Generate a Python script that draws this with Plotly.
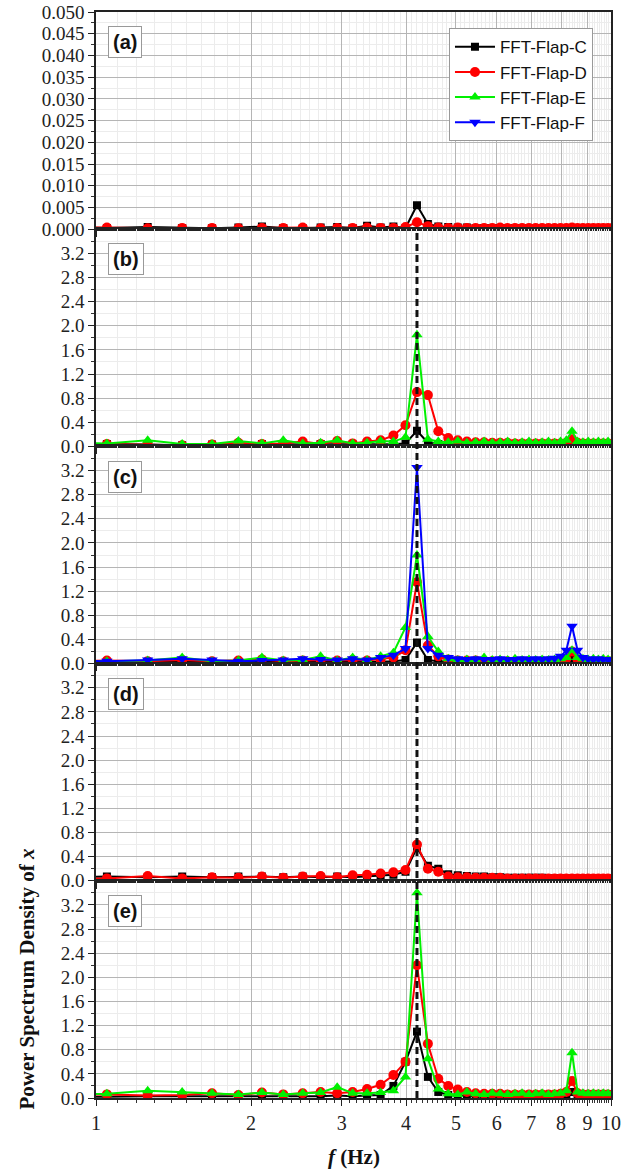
import math
import plotly.graph_objects as go
from plotly.subplots import make_subplots

# ---------------- data ----------------
freq = [0.84, 1.05, 1.26, 1.47, 1.68, 1.89, 2.10, 2.31, 2.52, 2.73, 2.94, 3.15, 3.36, 3.57,
        3.78, 3.99, 4.20, 4.41, 4.62, 4.83, 5.04, 5.25, 5.46, 5.67, 5.88, 6.09, 6.30, 6.51,
        6.72, 6.93, 7.14, 7.35, 7.56, 7.77, 7.98, 8.19, 8.40, 8.61, 8.82, 9.03, 9.24, 9.45,
        9.66, 9.87, 10.08]

# panel (a)
C_a = [0.0004, 0.0003, 0.0005, 0.0003, 0.0002, 0.0004, 0.0006, 0.0003, 0.0002, 0.0004, 0.0005,
       0.0003, 0.0008, 0.0004, 0.0006, 0.0003, 0.0055, 0.0012, 0.0006, 0.0005, 0.0004, 0.0004,
       0.0003, 0.0003, 0.0003, 0.0003, 0.0002, 0.0003, 0.0002, 0.0002, 0.0003, 0.0002, 0.0002,
       0.0002, 0.0002, 0.0002, 0.0003, 0.0002, 0.0002, 0.0002, 0.0002, 0.0002, 0.0002, 0.0002,
       0.0002]
D_a = [0.0003, 0.0004, 0.0002, 0.0003, 0.0003, 0.0002, 0.0003, 0.0003, 0.0004, 0.0002, 0.0003,
       0.0003, 0.0004, 0.0003, 0.0003, 0.0005, 0.0016, 0.0007, 0.0004, 0.0003, 0.0004, 0.0003,
       0.0003, 0.0003, 0.0003, 0.0004, 0.0003, 0.0003, 0.0003, 0.0003, 0.0003, 0.0003, 0.0003,
       0.0003, 0.0003, 0.0003, 0.0004, 0.0003, 0.0003, 0.0003, 0.0003, 0.0003, 0.0003, 0.0003,
       0.0003]

# panel (b)
C_b = [0.03, 0.04, 0.03, 0.02, 0.03, 0.03, 0.04, 0.03, 0.03, 0.04, 0.03, 0.03, 0.04, 0.03, 0.04,
       0.05, 0.26, 0.06, 0.04, 0.03, 0.03, 0.03, 0.03, 0.02, 0.02, 0.03, 0.02, 0.02, 0.02, 0.02,
       0.02, 0.02, 0.02, 0.02, 0.03, 0.03, 0.05, 0.03, 0.02, 0.02, 0.02, 0.02, 0.02, 0.02, 0.02]
D_b = [0.05, 0.04, 0.03, 0.02, 0.03, 0.06, 0.04, 0.05, 0.08, 0.04, 0.09, 0.05, 0.08, 0.10, 0.18,
       0.35, 0.90, 0.85, 0.25, 0.14, 0.10, 0.08, 0.07, 0.07, 0.06, 0.06, 0.06, 0.05, 0.05, 0.05,
       0.05, 0.05, 0.05, 0.05, 0.05, 0.06, 0.12, 0.06, 0.05, 0.05, 0.05, 0.05, 0.05, 0.05, 0.05]
E_b = [0.06, 0.05, 0.10, 0.04, 0.04, 0.09, 0.05, 0.10, 0.05, 0.06, 0.10, 0.05, 0.06, 0.09, 0.08,
       0.15, 1.85, 0.12, 0.08, 0.07, 0.09, 0.06, 0.07, 0.08, 0.06, 0.07, 0.08, 0.06, 0.07, 0.08,
       0.06, 0.07, 0.08, 0.06, 0.08, 0.10, 0.25, 0.08, 0.07, 0.08, 0.07, 0.08, 0.07, 0.08, 0.07]

# panel (c)
C_c = [0.03, 0.02, 0.03, 0.03, 0.02, 0.03, 0.03, 0.02, 0.03, 0.03, 0.02, 0.03, 0.03, 0.03, 0.04,
       0.06, 0.35, 0.06, 0.04, 0.03, 0.03, 0.03, 0.02, 0.02, 0.02, 0.02, 0.02, 0.02, 0.02, 0.02,
       0.02, 0.02, 0.02, 0.02, 0.03, 0.04, 0.06, 0.03, 0.02, 0.02, 0.02, 0.02, 0.02, 0.02, 0.02]
D_c = [0.04, 0.05, 0.04, 0.06, 0.04, 0.05, 0.07, 0.04, 0.05, 0.06, 0.05, 0.06, 0.05, 0.07, 0.10,
       0.22, 1.35, 0.30, 0.12, 0.07, 0.05, 0.05, 0.05, 0.04, 0.04, 0.04, 0.04, 0.04, 0.04, 0.04,
       0.04, 0.04, 0.04, 0.04, 0.05, 0.08, 0.20, 0.07, 0.04, 0.04, 0.04, 0.04, 0.04, 0.04, 0.04]
E_c = [0.05, 0.04, 0.05, 0.10, 0.04, 0.05, 0.10, 0.05, 0.06, 0.12, 0.05, 0.10, 0.06, 0.12, 0.18,
       0.60, 1.80, 0.45, 0.20, 0.08, 0.06, 0.07, 0.06, 0.10, 0.06, 0.07, 0.06, 0.08, 0.06, 0.07,
       0.06, 0.07, 0.06, 0.07, 0.08, 0.10, 0.22, 0.10, 0.08, 0.07, 0.08, 0.07, 0.08, 0.07, 0.08]
F_c = [0.05, 0.04, 0.06, 0.08, 0.06, 0.04, 0.05, 0.06, 0.08, 0.07, 0.06, 0.08, 0.06, 0.10, 0.14,
       0.25, 3.25, 0.25, 0.14, 0.10, 0.08, 0.07, 0.08, 0.07, 0.07, 0.08, 0.07, 0.07, 0.08, 0.07,
       0.08, 0.07, 0.08, 0.09, 0.12, 0.22, 0.62, 0.22, 0.10, 0.08, 0.07, 0.08, 0.07, 0.07, 0.06]

# panel (d)
C_d = [0.06, 0.07, 0.06, 0.07, 0.06, 0.07, 0.07, 0.06, 0.07, 0.06, 0.07, 0.06, 0.07, 0.08, 0.10,
       0.15, 0.55, 0.25, 0.20, 0.11, 0.09, 0.08, 0.07, 0.07, 0.06, 0.06, 0.05, 0.05, 0.05, 0.05,
       0.05, 0.05, 0.04, 0.04, 0.04, 0.04, 0.04, 0.04, 0.04, 0.04, 0.04, 0.04, 0.04, 0.04, 0.04]
D_d = [0.03, 0.04, 0.08, 0.04, 0.06, 0.05, 0.07, 0.05, 0.07, 0.08, 0.06, 0.09, 0.10, 0.12, 0.14,
       0.18, 0.60, 0.20, 0.15, 0.07, 0.06, 0.06, 0.05, 0.05, 0.05, 0.05, 0.04, 0.04, 0.04, 0.04,
       0.04, 0.04, 0.04, 0.04, 0.04, 0.04, 0.04, 0.04, 0.04, 0.04, 0.04, 0.04, 0.04, 0.04, 0.04]

# panel (e)
C_e = [0.03, 0.02, 0.03, 0.03, 0.02, 0.03, 0.03, 0.02, 0.03, 0.03, 0.04, 0.03, 0.04, 0.05, 0.20,
       0.60, 1.10, 0.35, 0.10, 0.05, 0.04, 0.03, 0.03, 0.03, 0.03, 0.03, 0.03, 0.03, 0.03, 0.03,
       0.03, 0.03, 0.03, 0.03, 0.04, 0.05, 0.10, 0.04, 0.03, 0.03, 0.03, 0.03, 0.03, 0.03, 0.03]
D_e = [0.05, 0.06, 0.04, 0.05, 0.08, 0.05, 0.09, 0.06, 0.08, 0.10, 0.08, 0.10, 0.15, 0.22, 0.38,
       0.60, 2.20, 0.90, 0.32, 0.20, 0.14, 0.10, 0.08, 0.07, 0.07, 0.07, 0.06, 0.06, 0.06, 0.06,
       0.06, 0.06, 0.06, 0.06, 0.07, 0.10, 0.28, 0.08, 0.06, 0.06, 0.06, 0.06, 0.06, 0.06, 0.06]
E_e = [0.06, 0.07, 0.12, 0.10, 0.08, 0.06, 0.09, 0.06, 0.08, 0.09, 0.18, 0.08, 0.08, 0.09, 0.12,
       0.35, 3.40, 0.65, 0.15, 0.07, 0.06, 0.10, 0.07, 0.06, 0.08, 0.07, 0.06, 0.07, 0.08, 0.06,
       0.07, 0.08, 0.06, 0.07, 0.08, 0.12, 0.75, 0.10, 0.08, 0.07, 0.08, 0.07, 0.08, 0.07, 0.08]

peak_freq = 4.2
panel_labels = ["(a)", "(b)", "(c)", "(d)", "(e)"]
x_tick_vals = [1, 2, 3, 4, 5, 6, 7, 8, 9, 10]
x_tick_text = ["1", "2", "3", "4", "5", "6", "7", "8", "9", "10"]

panels = [
    {"C": C_a, "D": D_a},
    {"C": C_b, "D": D_b, "E": E_b},
    {"C": C_c, "D": D_c, "E": E_c, "F": F_c},
    {"C": C_d, "D": D_d},
    {"C": C_e, "D": D_e, "E": E_e},
]

# ---------------- styling ----------------
style = {
    "C": dict(color="#000000", symbol="square", size=8),
    "D": dict(color="#ff0000", symbol="circle", size=10),
    "E": dict(color="#00f000", symbol="triangle-up", size=10),
    "F": dict(color="#0000ff", symbol="triangle-down", size=10),
}

fig = make_subplots(rows=5, cols=1, shared_xaxes=True, vertical_spacing=0)

legend_panel = 2
for i, p in enumerate(panels):
    for key, vals in p.items():
        st = style[key]
        fig.add_trace(
            go.Scatter(
                x=freq, y=vals, mode="lines+markers",
                name="FFT-Flap-" + key, legendgroup=key,
                showlegend=(i == legend_panel),
                line=dict(color=st["color"], width=2),
                marker=dict(color=st["color"], symbol=st["symbol"], size=st["size"]),
            ),
            row=i + 1, col=1,
        )

# minor x ticks (0.1 steps between integers)
minor_x = []
for d in range(1, 10):
    for k in range(1, 10):
        minor_x.append(round(d + k * 0.1, 2))

serif = "Liberation Serif, Times New Roman, serif"
sans = "Liberation Sans, Arial, sans-serif"

for r in range(1, 6):
    fig.update_xaxes(
        type="log", range=[0, 1], automargin=False,
        tickmode="array", tickvals=x_tick_vals, ticktext=x_tick_text,
        ticks="outside", ticklen=6, tickwidth=1.2, tickcolor="#222",
        showgrid=True, gridcolor="#b5b5b5", gridwidth=1,
        minor=dict(tickvals=minor_x, ticks="outside", ticklen=3, tickcolor="#333",
                   showgrid=True, gridcolor="#ececec", gridwidth=1),
        showline=True, linecolor="#222", linewidth=1.5, mirror=True,
        tickfont=dict(family=serif, size=20, color="#222"),
        ticklabeloverflow="allow",
        zeroline=False,
        row=r, col=1,
    )

# y axes
ya_vals = [round(0.005 * k, 3) for k in range(11)]
ya_minor = [round(0.0025 + 0.005 * k, 4) for k in range(10)]
fig.update_yaxes(
    range=[0, 0.05], tickmode="array", tickvals=ya_vals,
    ticktext=["%.3f" % v for v in ya_vals],
    minor=dict(tickvals=ya_minor, ticks="outside", ticklen=3, tickcolor="#333",
               showgrid=True, gridcolor="#ececec"),
    row=1, col=1,
)
yb_vals = [round(0.4 * k, 1) for k in range(9)]
yb_minor = [round(0.2 + 0.4 * k, 1) for k in range(9)]
for r in range(2, 6):
    fig.update_yaxes(
        range=[0, 3.6], tickmode="array", tickvals=yb_vals,
        ticktext=["%.1f" % v for v in yb_vals],
        minor=dict(tickvals=yb_minor, ticks="outside", ticklen=3, tickcolor="#333",
                   showgrid=True, gridcolor="#ececec"),
        row=r, col=1,
    )
for r in range(1, 6):
    fig.update_yaxes(
        automargin=False,
        ticks="outside", ticklen=6, tickwidth=1.2, tickcolor="#222",
        showgrid=True, gridcolor="#b5b5b5", gridwidth=1,
        showline=True, linecolor="#222", linewidth=1.5, mirror=True,
        tickfont=dict(family=serif, size=19, color="#222"),
        ticklabeloverflow="allow",
        zeroline=False,
        row=r, col=1,
    )

# panel labels
for i, lab in enumerate(panel_labels):
    ax = "" if i == 0 else str(i + 1)
    fig.add_annotation(
        text="<b>" + lab + "</b>", xref="x" + ax + " domain", yref="y" + ax + " domain",
        x=0.023, y=0.935, xanchor="left", yanchor="top", showarrow=False,
        font=dict(family=sans, size=20, color="#111"),
        bordercolor="#999", borderwidth=1, borderpad=4, bgcolor="white",
    )

# dashed reference line at the dominant frequency (log axis, range 0..1 decades)
x_frac = (math.log10(peak_freq) - 0.0) / (1.0 - 0.0)
fig.add_shape(
    type="line", xref="x domain", yref="paper",
    x0=x_frac, x1=x_frac, y0=0, y1=0.8,
    line=dict(color="#111", width=3, dash="7px,4px"), layer="above",
)

# axis titles
fig.add_annotation(
    text="<b>Power Spectrum Density of <i>x</i></b>", xref="paper", yref="paper",
    x=-0.134, y=0.11, xanchor="center", yanchor="middle", textangle=-90, showarrow=False,
    font=dict(family=serif, size=21, color="#111"),
)
fig.add_annotation(
    text="<b><i>f</i> (Hz)</b>", xref="paper", yref="paper",
    x=0.5, y=-0.054, xanchor="center", yanchor="middle", showarrow=False,
    font=dict(family=serif, size=21, color="#111"),
)

fig.update_layout(
    width=640, height=1171,
    margin=dict(l=96, r=29, t=12, b=73, autoexpand=False),
    plot_bgcolor="white", paper_bgcolor="white",
    legend=dict(
        x=0.965, y=0.985, xanchor="right", yanchor="top",
        bgcolor="white", bordercolor="#999", borderwidth=1,
        font=dict(family=sans, size=17, color="#111"),
        tracegroupgap=0, itemwidth=40,
    ),
    showlegend=True,
)

# remove the browser's default 8px body margin so the figure fills the window exactly
fig.write_html(
    "out.html",
    config={"displayModeBar": False},
    post_script="document.body.style.margin='0';document.body.style.overflow='hidden';",
)
